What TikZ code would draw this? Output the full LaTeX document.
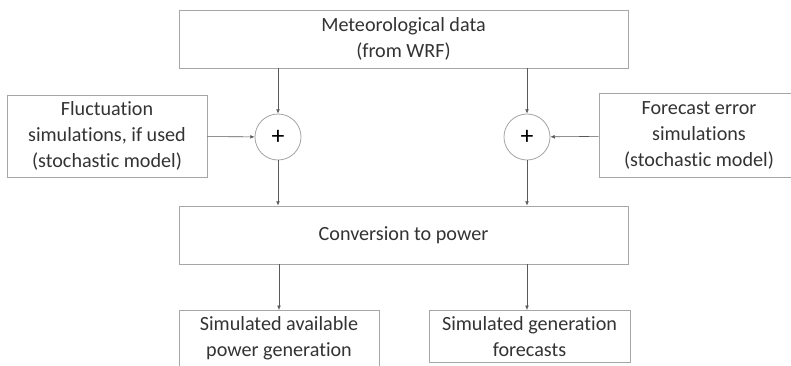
\documentclass[tikz,border=0pt]{standalone}
\usepackage{fontspec}
\setmainfont{Carlito}[Ligatures={NoCommon,NoRequired,NoContextual}]
\usepackage{xcolor}
\usepackage{tikz}
\usetikzlibrary{arrows.meta}
\definecolor{boxline}{HTML}{A6A6A6}
\definecolor{arrline}{HTML}{595959}
\definecolor{txt}{HTML}{333333}

\begin{document}
\begin{tikzpicture}[x=0.3mm,y=-0.3mm,
	main box/.style={rectangle, draw=boxline, line width=0.7pt, fill=white, align=center, text=txt, font=\fontsize{17.2}{22.5}\selectfont},
	sum node/.style={circle, draw=boxline, line width=0.7pt, minimum size=13.8mm, inner sep=0pt, font=\fontsize{22}{22}\selectfont}]
			\clip (0,0) rectangle (791,366);
			\fill[white] (0,0) rectangle (791,366);
			% Nodes
			\node[main box, minimum width=134.7mm, minimum height=17.4mm] (1) at (403.5,39) {Meteorological data\\(from WRF)};
			\node[main box, minimum width=60mm, minimum height=24.6mm] (2) at (107,136) {Fluctuation\\simulations, if used\\(stochastic model)};
			\node[main box, minimum width=60mm, minimum height=25mm] (3) at (699,135.5) {Forecast error\\simulations\\(stochastic model)};
			\node[sum node] (4) at (278,137) {+};
			\node[sum node] (5) at (527,137) {+};
			\node[main box, minimum width=134.7mm, minimum height=17.4mm] (6) at (403.5,235) {Conversion to power};
			\node[main box, minimum width=60mm, inner ysep=1.8mm, anchor=north] (7) at (279,310) {Simulated available\\power generation};
			\node[main box, minimum width=60.3mm, inner ysep=1.8mm, anchor=north] (8) at (529.5,310) {Simulated generation\\forecasts};
			
			% Connectors
			\path[every edge/.style={draw=arrline, line width=0.5pt, -{Latex[length=1.3mm,width=1.1mm]}}]
			(1.south -| 4) edge (4)
			(1.south -| 5) edge (5)
			(2) edge (4)
			(3) edge (5)
			(4) edge (4 |- 6.north)
			(5) edge (5 |- 6.north)
			(6.south -| 7) edge (7)
			(6.south -| 5) edge (5 |- 8.north);
			
		\end{tikzpicture}
\end{document}
